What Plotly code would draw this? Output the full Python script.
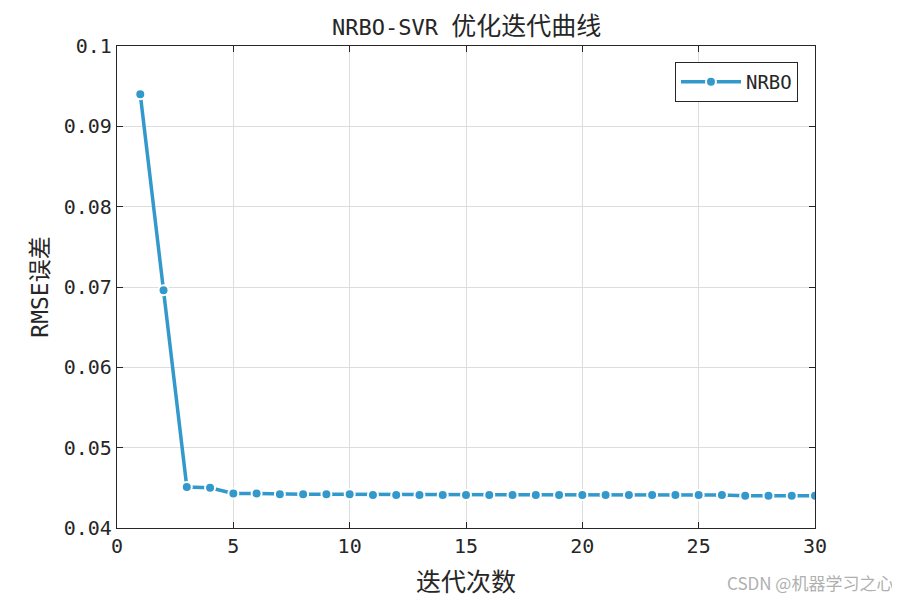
import plotly.graph_objects as go

iterations = list(range(1, 31))
rmse = [0.0940, 0.0696, 0.0451, 0.0450, 0.0443, 0.0443, 0.0442, 0.0442, 0.0442, 0.0442,
        0.0441, 0.0441, 0.0441, 0.0441, 0.0441, 0.0441, 0.0441, 0.0441, 0.0441, 0.0441,
        0.0441, 0.0441, 0.0441, 0.0441, 0.0441, 0.0441, 0.0440, 0.0440, 0.0440, 0.0440]
x_ticks = [0, 5, 10, 15, 20, 25, 30]
y_ticks = [0.04, 0.05, 0.06, 0.07, 0.08, 0.09, 0.1]
y_tick_labels = ["0.04", "0.05", "0.06", "0.07", "0.08", "0.09", "0.1"]

FONT = "DejaVu Sans Mono, Noto Sans CJK SC"
COLOR = "#3399CC"
TXT = "#262626"

fig = go.Figure()
fig.add_trace(go.Scatter(
    x=iterations, y=rmse, mode="lines+markers", name="NRBO",
    line=dict(color=COLOR, width=3.5),
    marker=dict(color=COLOR, size=10, line=dict(color="white", width=2)),
))

fig.update_layout(
    width=900, height=600,
    margin=dict(l=109, r=93, t=38, b=80, autoexpand=False),
    plot_bgcolor="white", paper_bgcolor="white",
    font=dict(family=FONT, color=TXT),
    showlegend=True,
    legend=dict(x=0.9756, y=0.967, xanchor="right", yanchor="top",
                bordercolor=TXT, borderwidth=1, bgcolor="white",
                font=dict(size=19, family=FONT, color=TXT),
                itemwidth=60, tracegroupgap=0),
    xaxis=dict(range=[0, 30], tickvals=x_ticks, ticks="inside", ticklen=6,
               tickcolor=TXT, showline=True, linecolor=TXT, linewidth=1.2,
               mirror="ticks", showgrid=True, gridcolor="#DDDDDD", gridwidth=1,
               zeroline=False, automargin=False,
               tickfont=dict(size=20, family=FONT, color=TXT),
               title=dict(text="迭代次数", font=dict(size=25, family=FONT, color=TXT),
                          standoff=16)),
    yaxis=dict(range=[0.04, 0.1], tickvals=y_ticks, ticktext=y_tick_labels,
               ticks="inside", ticklen=6, tickcolor=TXT,
               showline=True, linecolor=TXT, linewidth=1.2, mirror="ticks",
               showgrid=True, gridcolor="#DDDDDD", gridwidth=1, zeroline=False,
               automargin=False,
               tickfont=dict(size=20, family=FONT, color=TXT),
               title=dict(text="RMSE误差", font=dict(size=23, family=FONT, color=TXT),
                          standoff=8)),
)

fig.add_annotation(text="NRBO-SVR <span style='font-size:25px'>优化迭代曲线</span>",
                   x=0.5, y=1.0, xref="paper", yref="paper",
                   xanchor="center", yanchor="bottom", yshift=3, showarrow=False,
                   font=dict(size=22, family=FONT, color=TXT))
fig.add_annotation(text="CSDN @机器学习之心", x=1.1146, y=-0.114, xref="paper", yref="paper",
                   xanchor="right", yanchor="middle", showarrow=False,
                   font=dict(size=17, family="Noto Sans CJK SC", color="#B0B0B0"))

fig.write_html("out.html")
